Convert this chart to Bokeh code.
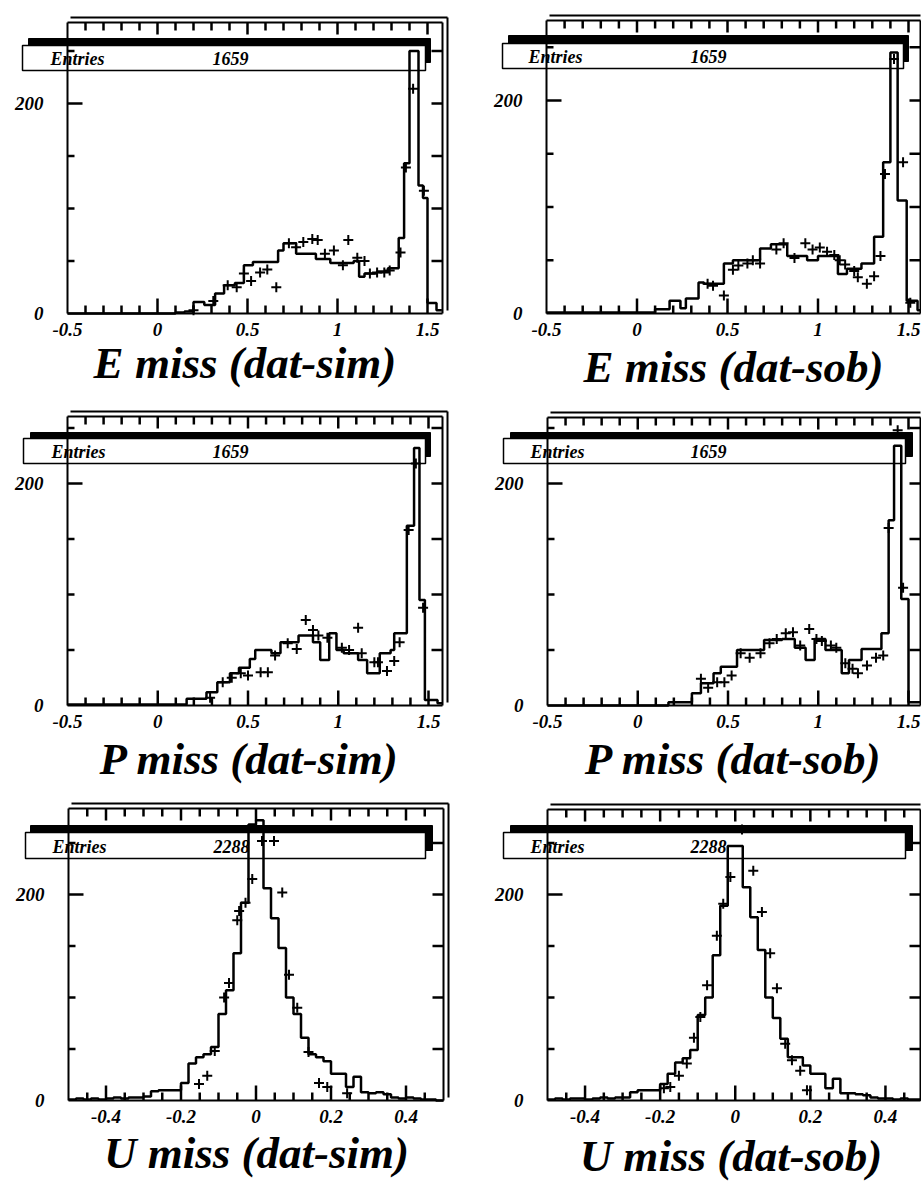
from bokeh.plotting import figure
from bokeh.models import Range1d, LinearAxis, FixedTicker, BoxAnnotation, Label
from bokeh.layouts import column, row
from bokeh.embed import file_html
from bokeh.resources import INLINE

# ---------------- data ----------------
e_sim_edges = [-0.5, 0.1, 0.15, 0.2, 0.26, 0.32, 0.37, 0.43, 0.48, 0.53, 0.67, 0.70, 0.77,
               0.88, 0.96, 1.09, 1.12, 1.15, 1.22, 1.28, 1.34, 1.37, 1.40, 1.45, 1.475, 1.5, 1.55, 1.58]
e_sim_counts = [0, 1, 2, 11, 8, 19, 27, 29, 46, 49, 60, 67, 57, 52, 48, 50, 35, 38, 40, 43,
                72, 143, 250, 122, 110, 10, 3]
e_sim_dx = [0.2, 0.31, 0.39, 0.44, 0.48, 0.52, 0.57, 0.61, 0.66, 0.73, 0.77, 0.81, 0.86, 0.89,
            0.93, 0.98, 1.03, 1.06, 1.11, 1.15, 1.18, 1.22, 1.26, 1.29, 1.35, 1.38, 1.42, 1.48]
e_sim_dy = [3, 12, 27, 25, 38, 31, 39, 42, 25, 67, 63, 68, 71, 70, 57, 60, 46, 70, 53, 50,
            38, 39, 39, 41, 58, 139, 214, 117]

e_sob_edges = [-0.5, 0.1, 0.18, 0.24, 0.27, 0.34, 0.37, 0.48, 0.53, 0.68, 0.74, 0.83, 0.94,
               1.0, 1.11, 1.16, 1.24, 1.31, 1.36, 1.40, 1.44, 1.49, 1.55, 1.6]
e_sob_counts = [1, 4, 12, 5, 14, 29, 28, 47, 50, 61, 65, 54, 50, 54, 37, 42, 47, 72, 142,
                245, 106, 12, 3]
e_sob_dx = [0.39, 0.42, 0.48, 0.53, 0.56, 0.61, 0.64, 0.68, 0.77, 0.81, 0.87, 0.93, 0.97, 1.01,
            1.05, 1.09, 1.12, 1.15, 1.2, 1.22, 1.27, 1.31, 1.345, 1.37, 1.42, 1.47, 1.51]
e_sob_dy = [28, 26, 17, 41, 45, 47, 50, 47, 60, 66, 52, 66, 60, 62, 58, 55, 50, 46, 40, 34,
            28, 35, 54, 131, 239, 142, 10]

p_sim_edges = [-0.5, 0.16, 0.27, 0.33, 0.40, 0.45, 0.51, 0.54, 0.63, 0.68, 0.78, 0.86, 0.90,
               0.95, 0.99, 1.03, 1.11, 1.16, 1.23, 1.29, 1.31, 1.38, 1.42, 1.45, 1.48, 1.55, 1.58]
p_sim_counts = [1, 6, 12, 21, 29, 34, 42, 50, 47, 57, 63, 57, 41, 65, 50, 47, 41, 29, 47, 50,
                65, 162, 232, 95, 5, 2]
p_sim_dx = [0.29, 0.36, 0.41, 0.46, 0.5, 0.57, 0.61, 0.65, 0.72, 0.77, 0.82, 0.86, 0.89, 0.94,
            1.02, 1.06, 1.11, 1.13, 1.2, 1.22, 1.27, 1.31, 1.34, 1.39, 1.43, 1.47]
p_sim_dy = [7, 21, 25, 29, 27, 30, 30, 45, 56, 51, 77, 68, 63, 61, 52, 50, 70, 47, 39, 39,
            31, 40, 57, 158, 218, 88]

p_sob_edges = [-0.5, 0.17, 0.30, 0.35, 0.42, 0.46, 0.55, 0.70, 0.80, 0.87, 0.93, 0.98, 1.04,
               1.13, 1.17, 1.24, 1.35, 1.39, 1.42, 1.46, 1.50, 1.6]
p_sob_counts = [0, 3, 11, 20, 29, 35, 50, 59, 60, 52, 41, 60, 50, 29, 41, 51, 65, 167, 234, 96, 3]
p_sob_dx = [0.35, 0.39, 0.44, 0.48, 0.52, 0.57, 0.62, 0.68, 0.73, 0.77, 0.82, 0.86, 0.9, 0.95,
            0.99, 1.02, 1.07, 1.1, 1.15, 1.19, 1.22, 1.27, 1.32, 1.36, 1.39, 1.44, 1.47]
p_sob_dy = [24, 16, 21, 21, 27, 47, 43, 47, 56, 60, 65, 66, 54, 69, 60, 58, 54, 52, 38, 33,
            29, 36, 43, 45, 160, 248, 106]

u_edges = [round(-0.5 + 0.02 * i, 2) for i in range(51)]
u_sim_counts = [1, 2, 1, 2, 1, 2, 3, 2, 3, 3, 4, 9, 10, 10, 10, 17, 36, 42, 45, 52,
                84, 107, 143, 192, 268, 272, 206, 177, 148, 100, 84, 61, 45, 42, 38, 26, 26, 13, 23, 8,
                7, 8, 6, 3, 2, 3, 2, 1, 1, 0]
u_sim_dx = [-0.152, -0.13, -0.11, -0.085, -0.072, -0.05, -0.045, -0.028, -0.01, 0.016, 0.048,
            0.07, 0.088, 0.11, 0.14, 0.168, 0.19, 0.243]
u_sim_dy = [16, 24, 48, 100, 114, 175, 184, 192, 215, 252, 252, 202, 122, 90, 47, 17, 13, 7]

u_sob_counts = [1, 2, 1, 2, 2, 1, 2, 3, 2, 3, 3, 8, 10, 10, 10, 16, 26, 37, 41, 49,
                83, 100, 141, 189, 247, 247, 207, 178, 146, 100, 80, 60, 42, 42, 34, 26, 26, 12, 21, 7,
                7, 6, 5, 3, 2, 2, 1, 2, 1, 1]
u_sob_dx = [-0.19, -0.173, -0.15, -0.129, -0.11, -0.093, -0.075, -0.049, -0.032, -0.013, 0.018,
            0.048, 0.071, 0.093, 0.111, 0.133, 0.151, 0.173, 0.191]
u_sob_dy = [12, 13, 24, 36, 61, 81, 112, 160, 191, 217, 263, 223, 183, 143, 109, 55, 39, 29, 10]

titles = ["E miss  (dat-sim)", "E miss (dat-sob)", "P miss (dat-sim)",
          "P miss (dat-sob)", "U miss (dat-sim)", "U miss  (dat-sob)"]
entries = ["1659", "1659", "1659", "1659", "2288", "2288"]

ep_major = [-0.5, 0, 0.5, 1, 1.5]
ep_labels = {-0.5: "-0.5", 0: "0", 0.5: "0.5", 1: "1", 1.5: "1.5"}
ep_minor = [-0.4, -0.3, -0.2, -0.1, 0.1, 0.2, 0.3, 0.4, 0.6, 0.7, 0.8, 0.9,
            1.1, 1.2, 1.3, 1.4]
u_major = [-0.4, -0.2, 0, 0.2, 0.4]
u_labels = {-0.4: "-0.4", -0.2: "-0.2", 0: "0", 0.2: "0.2", 0.4: "0.4"}
u_minor = [-0.45, -0.35, -0.3, -0.25, -0.15, -0.1, -0.05, 0.05, 0.1, 0.15, 0.25, 0.3, 0.35, 0.45]
y_major = [0, 200]
y_minor = [50, 100, 150, 250]

# ---------------- page layout (absolute pixels) ----------------
FONT = "Liberation Serif"
COL_X = [0, 460]
COL_W = [460, 461]
ROW_Y = [0, 390, 786]
ROW_H = [390, 396, 396]

geo = [
    dict(frame=(67, 442, 22, 313), xs=180.0, ys=1.05, box=(22, 425, 45, 70), sh=(28, 430, 38, 62),
         tx=(50, 212), ty=58, title=(250, 377)),
    dict(frame=(546, 920, 20, 313), xs=181.0, ys=1.065, box=(502, 903, 43, 68), sh=(508, 908, 35, 61),
         tx=(528, 690), ty=56, title=(733, 381)),
    dict(frame=(67, 442, 416, 705), xs=180.5, ys=1.11, box=(23, 425, 438, 463), sh=(30, 430, 432, 456),
         tx=(51, 212), ty=451, title=(249, 773)),
    dict(frame=(547, 920, 417, 705), xs=180.5, ys=1.11, box=(503, 905, 438, 463), sh=(510, 912, 432, 456),
         tx=(530, 690), ty=451, title=(733, 773)),
    dict(frame=(68, 443, 808, 1100), xs=375.0, ys=1.03, box=(25, 425, 832, 858), sh=(30, 432, 825, 850),
         tx=(52, 213), ty=846, title=(256, 1167)),
    dict(frame=(547, 920, 809, 1100), xs=375.5, ys=1.03, box=(503, 905, 832, 858), sh=(510, 912, 825, 850),
         tx=(530, 690), ty=846, title=(736, 1170)),
]

# tick-mark lengths in pixels: bottom, top, left, right (major, minor)
TICK_PX = dict(bottom=(15, 8), top=(12, 8), left=(15, 7), right=(11, 11))

series = [
    (e_sim_edges, e_sim_counts, e_sim_dx, e_sim_dy),
    (e_sob_edges, e_sob_counts, e_sob_dx, e_sob_dy),
    (p_sim_edges, p_sim_counts, p_sim_dx, p_sim_dy),
    (p_sob_edges, p_sob_counts, p_sob_dx, p_sob_dy),
    (u_edges, u_sim_counts, u_sim_dx, u_sim_dy),
    (u_edges, u_sob_counts, u_sob_dx, u_sob_dy),
]


def make_axis(ticker, fixed, bounds, labels=None, standoff=0):
    ax = LinearAxis(ticker=ticker, fixed_location=fixed, bounds=bounds)
    ax.axis_line_width = 2
    ax.axis_line_color = "black"
    ax.major_tick_line_color = None
    ax.minor_tick_line_color = None
    ax.major_tick_in = 0
    ax.major_tick_out = 0
    ax.minor_tick_in = 0
    ax.minor_tick_out = 0
    ax.major_label_standoff = standoff
    if labels is None:
        ax.major_label_text_color = None
    else:
        ax.major_label_text_font = FONT
        ax.major_label_text_font_style = "bold italic"
        ax.major_label_text_font_size = "19px"
        ax.major_label_text_color = "black"
        if labels:
            ax.major_label_overrides = labels
    return ax


figs = []
for i in range(6):
    r, c = divmod(i, 2)
    g = geo[i]
    edges, counts, dx, dy = series[i]
    W, H = COL_W[c], ROW_H[r]
    l, rr, t, b = g["frame"]
    xs, ys = g["xs"], g["ys"]

    def X(px):
        return -0.5 + (px - l) / xs

    def Y(py):
        return (b - py) / ys

    x1, y1 = X(rr), Y(t)

    p = figure(width=W, height=H,
               x_range=Range1d(X(COL_X[c]), X(COL_X[c] + W)),
               y_range=Range1d(Y(ROW_Y[r] + H), Y(ROW_Y[r])),
               output_backend="svg", toolbar_location=None, title=None,
               x_axis_location=None, y_axis_location=None,
               min_border_left=0, min_border_right=0, min_border_top=0, min_border_bottom=0,
               background_fill_color="white", border_fill_color="white")
    p.outline_line_color = None
    p.grid.visible = False

    is_u = i >= 4
    major = u_major if is_u else ep_major
    minor = u_minor if is_u else ep_minor
    labels = u_labels if is_u else ep_labels

    # statistics box with its dark shadow (drawn under the histogram)
    sl, sr, st, sb = g["sh"]
    p.add_layout(BoxAnnotation(left=X(sl), right=X(sr), top=Y(st), bottom=Y(sb),
                               fill_color="black", fill_alpha=1, line_color="black",
                               line_alpha=1, level="underlay"))
    bl, br, bt, bb = g["box"]
    p.add_layout(BoxAnnotation(left=X(bl), right=X(br), top=Y(bt), bottom=Y(bb),
                               fill_color="white", fill_alpha=1, line_color="black",
                               line_width=1.5, line_alpha=1, level="underlay"))
    for txt, tx in (("Entries", g["tx"][0]), (entries[i], g["tx"][1])):
        p.add_layout(Label(x=X(tx), y=Y(g["ty"]), text=txt, text_font=FONT,
                           text_font_style="bold italic", text_font_size="18px",
                           text_baseline="middle", text_align="left", text_color="black"))

    # box sides: labelled bottom/left axes, plain top/right axes
    p.add_layout(make_axis(FixedTicker(ticks=major), 0, (-0.5, x1), labels=labels, standoff=9), "below")
    p.add_layout(make_axis(FixedTicker(ticks=y_major), -0.5, (0, y1), labels={}, standoff=24), "left")
    p.add_layout(make_axis(FixedTicker(ticks=[]), y1, (-0.5, x1)), "above")
    p.add_layout(make_axis(FixedTicker(ticks=[]), x1, (0, y1)), "right")
    # depth lines of the box
    right_end = rr + 5 if c == 0 else rr
    p.add_layout(make_axis(FixedTicker(ticks=[]), Y(t - 5), (X(l + 3), X(right_end))), "above")
    if c == 0:
        p.add_layout(make_axis(FixedTicker(ticks=[]), X(rr + 5), (Y(b - 3), Y(t - 5))), "right")

    # inward tick marks at the tick values of the axes (drawn on top of everything)
    sx0, sy0, sx1, sy1 = [], [], [], []
    for vals, k in ((major, 0), (minor, 1)):
        for v in vals:
            if v <= -0.5 or v > x1:
                continue
            sx0 += [v, v]
            sx1 += [v, v]
            sy0 += [0, y1]
            sy1 += [TICK_PX["bottom"][k] / ys, y1 - TICK_PX["top"][k] / ys]
    for vals, k in ((y_major, 0), (y_minor, 1)):
        for v in vals:
            if v <= 0 or v > y1:
                continue
            sy0 += [v, v]
            sy1 += [v, v]
            sx0 += [-0.5, x1]
            sx1 += [-0.5 + TICK_PX["left"][k] / xs, x1 - TICK_PX["right"][k] / xs]
    p.segment(x0=sx0, y0=sy0, x1=sx1, y1=sy1, line_color="black", line_width=2.5,
              level="overlay")

    # title under the box
    p.add_layout(Label(x=X(g["title"][0]), y=Y(g["title"][1] - 15), text=titles[i], text_font=FONT,
                       text_font_style="bold italic", text_font_size="45px",
                       text_align="center", text_baseline="middle", text_color="black"))

    # simulation histogram (outline) and data crosses
    p.step(x=edges, y=counts + [counts[-1]], mode="after", line_color="black", line_width=2.5)
    p.scatter(x=dx, y=dy, marker="cross", size=10, line_color="black", line_width=2)

    figs.append(p)

layout = column(row(figs[0], figs[1]), row(figs[2], figs[3]), row(figs[4], figs[5]))
open("out.html", "w").write(file_html(layout, INLINE))
